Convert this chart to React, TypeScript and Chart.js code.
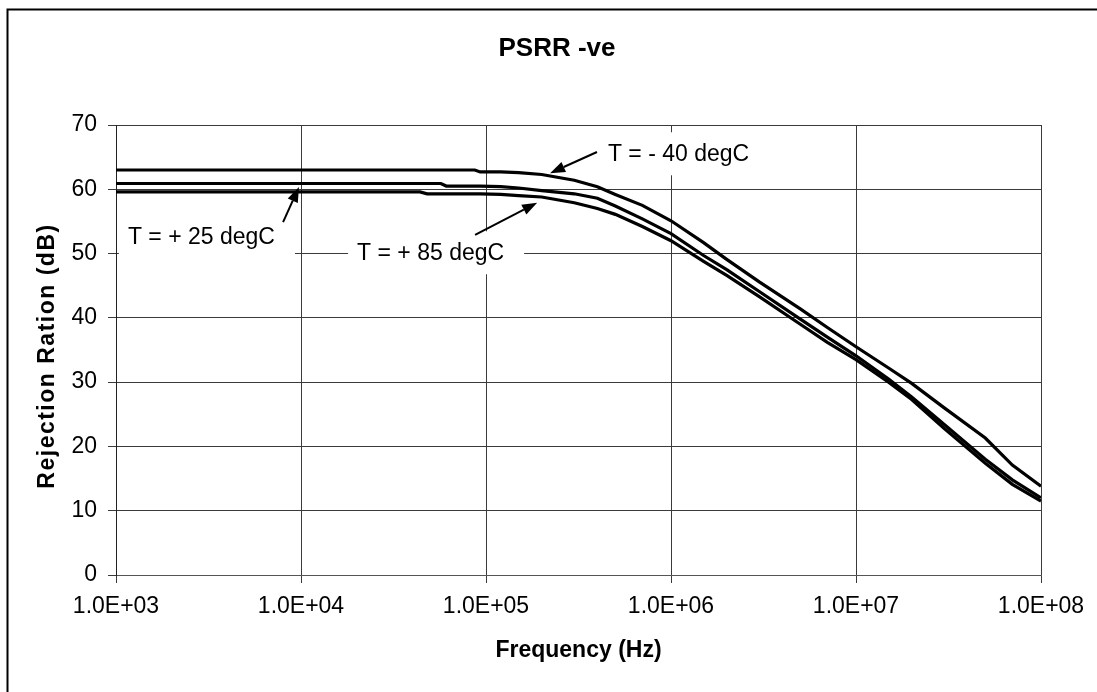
import React, { useEffect, useRef } from "react";
import { Chart, registerables } from "chart.js";

Chart.register(...registerables);

const FONT = "'Liberation Sans', Arial, Helvetica, sans-serif";

const chartTitle = "PSRR -ve";
const xAxisTitle = "Frequency (Hz)";
const yAxisTitle = "Rejection Ration (dB)";

const frequencies = [
  1e3, 1e4, 4.4e4, 4.8e4, 5.7e4, 6.1e4, 8.7e4, 9.3e4, 1.2e5, 1.5e5, 2e5, 3e5, 4e5, 5e5, 7e5,
  1e6, 1.5e6, 2e6, 3e6, 5e6, 7e6, 1e7, 1.5e7, 2e7, 3e7, 5e7, 7e7, 1e8,
];

const seriesMinus40 = [
  63.0, 63.0, 63.0, 63.0, 63.0, 63.0, 63.0, 62.7, 62.7, 62.6, 62.3, 61.4, 60.4, 59.2, 57.5,
  55.1, 51.7, 49.1, 45.6, 41.4, 38.5, 35.5, 32.2, 29.8, 26.0, 21.3, 17.1, 13.8,
];

const seriesPlus25 = [
  60.9, 60.9, 60.9, 60.9, 60.9, 60.5, 60.5, 60.5, 60.4, 60.2, 59.8, 59.3, 58.6, 57.4, 55.4,
  53.1, 49.7, 47.5, 44.1, 39.8, 37.0, 34.1, 30.5, 27.7, 23.4, 18.0, 14.8, 12.0,
];

const seriesPlus85 = [
  59.6, 59.6, 59.6, 59.3, 59.3, 59.3, 59.3, 59.3, 59.2, 59.0, 58.8, 57.9, 57.0, 56.1, 54.2,
  52.0, 48.8, 46.6, 43.3, 39.0, 36.2, 33.5, 30.0, 27.3, 22.8, 17.4, 14.1, 11.5,
];

const xTickValues = [1e3, 1e4, 1e5, 1e6, 1e7, 1e8];
const xTickLabels = ["1.0E+03", "1.0E+04", "1.0E+05", "1.0E+06", "1.0E+07", "1.0E+08"];

// annotations (data coordinates)
const annotationTexts = ["T = - 40 degC", "T = + 25 degC", "T = + 85 degC"];
const annotationTextFreq = [4.56e5, 1.16e3, 2.01e4];
const annotationTextDb = [65.6, 52.6, 50.2];
const arrowFromFreq = [3.98e5, 8.0e3, 8.73e4];
const arrowFromDb = [65.8, 54.9, 52.9];
const arrowToFreq = [2.22e5, 9.75e3, 1.89e5];
const arrowToDb = [62.5, 60.35, 57.9];

const toPoints = (vals: number[]) => frequencies.map((f, i) => ({ x: f, y: vals[i] }));

const decorPlugin = {
  id: "decor",
  beforeDatasetsDraw(chart: any) {
    const { ctx, scales } = chart;
    const x = scales.x;
    const y = scales.y;
    ctx.save();
    ctx.font = `23px ${FONT}`;
    ctx.fillStyle = "#ffffff";
    annotationTexts.forEach((t, i) => {
      const tx = x.getPixelForValue(annotationTextFreq[i]);
      const ty = y.getPixelForValue(annotationTextDb[i]);
      const w = ctx.measureText(t).width;
      ctx.fillRect(tx - 9, ty - 21, w + 29, 43);
    });
    ctx.restore();
  },
  afterDatasetsDraw(chart: any) {
    const { ctx, scales } = chart;
    const x = scales.x;
    const y = scales.y;
    ctx.save();
    ctx.font = `23px ${FONT}`;
    ctx.fillStyle = "#000";
    ctx.textAlign = "left";
    ctx.textBaseline = "middle";
    annotationTexts.forEach((t, i) => {
      const tx = x.getPixelForValue(annotationTextFreq[i]);
      const ty = y.getPixelForValue(annotationTextDb[i]);
      ctx.fillText(t, tx, ty + 1);
      // arrow
      const x0 = x.getPixelForValue(arrowFromFreq[i]);
      const y0 = y.getPixelForValue(arrowFromDb[i]);
      const x1 = x.getPixelForValue(arrowToFreq[i]);
      const y1 = y.getPixelForValue(arrowToDb[i]);
      const ang = Math.atan2(y1 - y0, x1 - x0);
      const headLen = 15;
      const headHalf = 5.5;
      const bx = x1 - headLen * Math.cos(ang);
      const by = y1 - headLen * Math.sin(ang);
      ctx.strokeStyle = "#000";
      ctx.lineWidth = 2;
      ctx.beginPath();
      ctx.moveTo(x0, y0);
      ctx.lineTo(bx, by);
      ctx.stroke();
      ctx.beginPath();
      ctx.moveTo(x1, y1);
      ctx.lineTo(bx + headHalf * Math.sin(ang), by - headHalf * Math.cos(ang));
      ctx.lineTo(bx - headHalf * Math.sin(ang), by + headHalf * Math.cos(ang));
      ctx.closePath();
      ctx.fill();
    });
    ctx.restore();
  },
  afterDraw(chart: any) {
    const { ctx, chartArea } = chart;
    ctx.save();
    // outer frame (top and left edges visible)
    ctx.strokeStyle = "#000";
    ctx.lineWidth = 2;
    ctx.beginPath();
    ctx.moveTo(7.5, chart.height);
    ctx.lineTo(7.5, 9.5);
    ctx.lineTo(chart.width, 9.5);
    ctx.stroke();
    // chart title
    ctx.fillStyle = "#000";
    ctx.textAlign = "center";
    ctx.textBaseline = "middle";
    ctx.font = `bold 26px ${FONT}`;
    ctx.fillText(chartTitle, 557, 49);
    // x axis title
    ctx.font = `bold 23px ${FONT}`;
    ctx.fillText(xAxisTitle, (chartArea.left + chartArea.right) / 2, 651);
    // y axis title
    ctx.translate(48, (chartArea.top + chartArea.bottom) / 2 + 6);
    ctx.rotate(-Math.PI / 2);
    (ctx as any).letterSpacing = "1.5px";
    ctx.fillText(yAxisTitle, 0, 0);
    ctx.restore();
  },
};

export default function App() {
  const canvasRef = useRef<HTMLCanvasElement | null>(null);

  useEffect(() => {
    if (!canvasRef.current) return;
    const lineStyle = {
      borderColor: "#000",
      backgroundColor: "#000",
      borderWidth: 3.2,
      pointRadius: 0,
      tension: 0,
      fill: false,
    };
    const chart = new Chart(canvasRef.current, {
      type: "line",
      data: {
        datasets: [
          { label: "T = - 40 degC", data: toPoints(seriesMinus40), ...lineStyle },
          { label: "T = + 25 degC", data: toPoints(seriesPlus25), ...lineStyle },
          { label: "T = + 85 degC", data: toPoints(seriesPlus85), ...lineStyle },
        ],
      },
      options: {
        animation: false,
        responsive: true,
        maintainAspectRatio: false,
        devicePixelRatio: 1,
        events: [],
        layout: { padding: { left: 0, top: 125, right: 56, bottom: 0 } },
        plugins: {
          legend: { display: false },
          tooltip: { enabled: false },
          title: { display: false },
        },
        scales: {
          x: {
            type: "logarithmic",
            min: 1e3,
            max: 1e8,
            afterBuildTicks: (axis: any) => {
              axis.ticks = xTickValues.map((v) => ({ value: v }));
            },
            afterFit: (scale: any) => {
              scale.height = 117;
            },
            ticks: {
              autoSkip: false,
              maxRotation: 0,
              minRotation: 0,
              padding: 10,
              color: "#000",
              font: { family: FONT, size: 23 },
              callback: (v: any) => {
                const idx = xTickValues.indexOf(Number(v));
                return idx >= 0 ? xTickLabels[idx] : "";
              },
            },
            grid: { color: "#3a3a3a", lineWidth: 1, tickLength: 8, drawTicks: true },
            border: { display: true, color: "#555", width: 1 },
          },
          y: {
            type: "linear",
            min: 0,
            max: 70,
            afterFit: (scale: any) => {
              scale.width = 116;
            },
            ticks: {
              stepSize: 10,
              padding: 11,
              color: "#000",
              font: { family: FONT, size: 23 },
            },
            grid: { color: "#3a3a3a", lineWidth: 1, tickLength: 8, drawTicks: true },
            border: { display: true, color: "#222", width: 1 },
          },
        },
      },
      plugins: [decorPlugin],
    } as any);
    return () => chart.destroy();
  }, []);

  return (
    <div
      style={{
        position: "fixed",
        left: 0,
        top: 0,
        width: 1097,
        height: 692,
        background: "#fff",
      }}
    >
      <canvas ref={canvasRef} />
    </div>
  );
}
